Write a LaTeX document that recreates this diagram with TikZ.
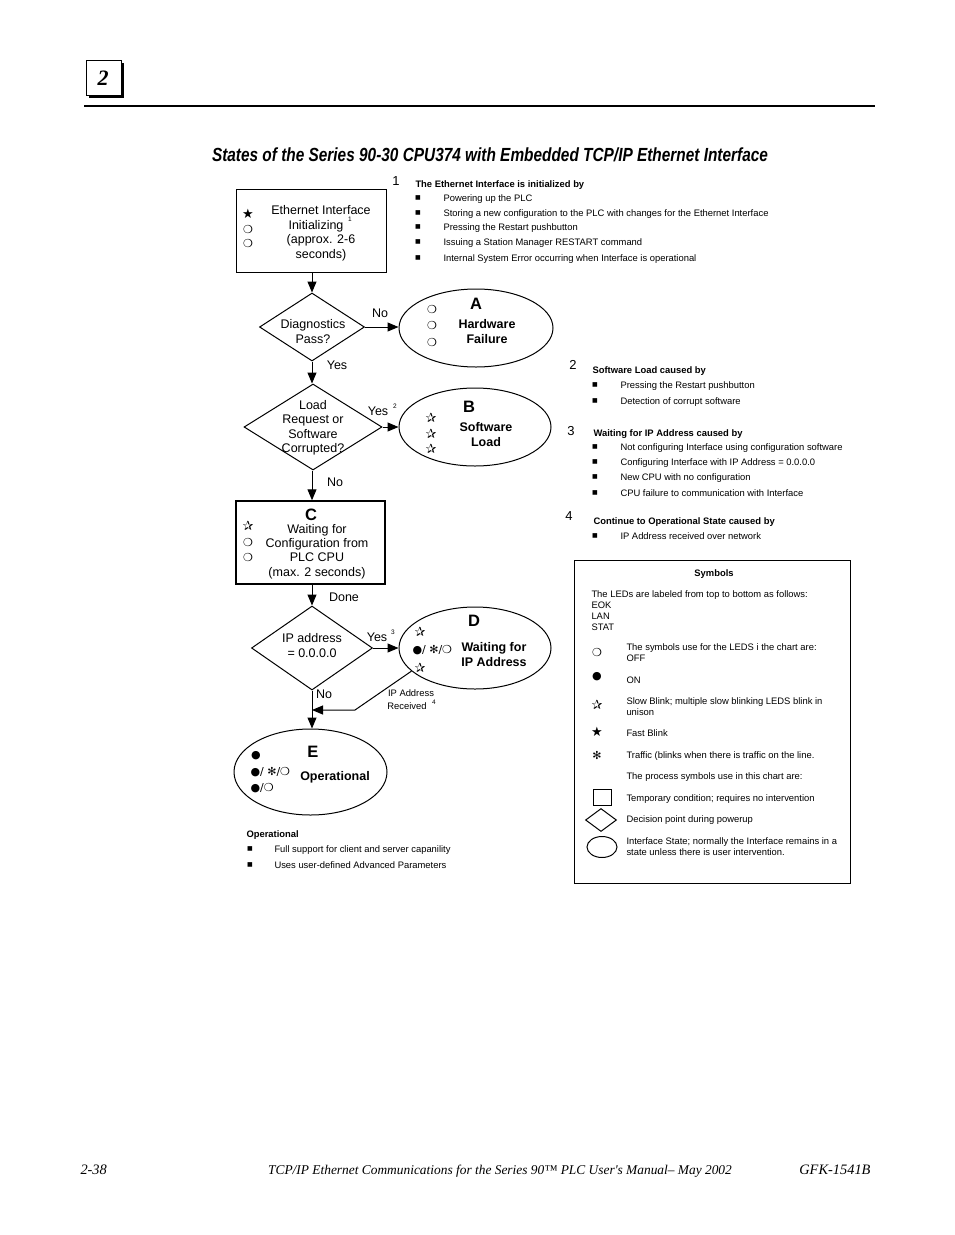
\documentclass[tikz,border=0pt]{standalone}
\usepackage{fontspec}
\setmainfont{Liberation Sans}
\newfontfamily\symf{DejaVu Sans}
\newfontfamily\timesf{Liberation Serif}
\newfontfamily\narrowf[FakeStretch=0.81]{Liberation Sans}
\usetikzlibrary{shapes.geometric,arrows.meta}
\newcommand\fsS{\fontsize{9.4pt}{11pt}\selectfont}
\newcommand\fsM{\fontsize{12.5pt}{14pt}\selectfont}
\newcommand\fsL{\fontsize{16.5pt}{18pt}\selectfont}
\newcommand\fsSup{\fontsize{6.5pt}{7pt}\selectfont}
\newcommand\fsNum{\fontsize{13pt}{15pt}\selectfont}
\newcommand\fsSym{\symf\fontsize{11pt}{12pt}\selectfont}
\newcommand\fsStar{\symf\fontsize{13pt}{14pt}\selectfont}
\newcommand\fsBul{\symf\fontsize{6pt}{7pt}\selectfont}
\begin{document}
\begin{tikzpicture}[x=1pt,y=-1pt,line width=1pt,
  txs/.style={inner sep=0,font=\fsS,text height=6.7pt,text depth=0pt},
  txsb/.style={inner sep=0,font=\fsS\bfseries,text height=6.7pt,text depth=0pt},
  txm/.style={inner sep=0,font=\fsM,text height=9pt,text depth=0pt},
  txmb/.style={inner sep=0,font=\fsM\bfseries,text height=9pt,text depth=0pt},
  txbig/.style={inner sep=0,font=\fsL\bfseries,text height=11.8pt,text depth=0pt},
  txsup/.style={inner sep=0,font=\fsSup,text height=4.7pt,text depth=0pt},
  txnum/.style={inner sep=0,font=\fsNum,text height=9.3pt,text depth=0pt},
  txsym/.style={inner sep=0,font=\fsSym},
  txstar/.style={inner sep=0,font=\fsStar},
  txbul/.style={inner sep=0,font=\fsBul},
  boxst/.style={draw,rectangle,inner sep=0},
  dia/.style={draw,diamond,inner sep=0},
  ell/.style={draw,ellipse,inner sep=0},
  arr/.style={-{Triangle[length=11pt,width=9pt]}}
]
\useasboundingbox (0,0) rectangle (954,1235);
\fill[white] (0,0) rectangle (954,1235);

% header
\fill[black] (89,63) rectangle (124,98);
\draw[fill=white] (86,60) rectangle (121,95);
\node[inner sep=0] (chap) at (103,78) {\timesf\bfseries\itshape\fontsize{22pt}{24pt}\selectfont 2};
\draw[line width=2pt] (84,106) -- (352,106);
\draw[line width=1.2pt] (352,106) -- (875,106);

% title
\node[inner sep=0,text height=13.6pt,text depth=0pt] (title) at (490,155)
  {\narrowf\bfseries\itshape\fontsize{19pt}{21pt}\selectfont States of the Series 90-30 CPU374 with Embedded TCP/IP Ethernet Interface};

% shapes
\node[boxst,minimum width=150,minimum height=83] (init) at (311,230.5) {};
\node[dia,minimum width=105,minimum height=68] (d1) at (312,327) {};
\node[ell,minimum width=154,minimum height=78] (A) at (476,328) {};
\node[dia,minimum width=138,minimum height=86] (d2) at (313,427) {};
\node[ell,minimum width=152,minimum height=78] (B) at (475,427) {};
\node[boxst,line width=1.4pt,minimum width=149,minimum height=83] (C) at (310.5,542.5) {};
\node[dia,minimum width=121,minimum height=84] (d3) at (312,648) {};
\node[ell,minimum width=152,minimum height=82] (D) at (475,648) {};
\node[ell,minimum width=153,minimum height=86] (E) at (310.5,772) {};

% connectors
\draw[arr] (init.south -| d1.north) -- (d1.north);
\draw[arr] (d1.east) -- (d1.east -| A.west);
\draw[arr] (d1.south) -- (d2.north -| d1.south);
\draw[arr] (d2.east) -- (B.west);
\draw[arr] (d2.south -| d1.south) -- (C.north -| d1.south);
\draw[arr] (C.south -| d3.north) -- (d3.north);
\draw[arr] (d3.east) -- (D.west);
\draw[arr] (d3.south) -- (E.north -| d3.south);
\coordinate (bend) at (355,710);
\coordinate (join) at (d3.south |- bend);
\draw[arr] (D.200) -- (bend) -- (join);

% init box text
\node[txm] (i1) at (321,210) {Ethernet Interface};
\node[txm] (i2) at (316,225) {Initializing};
\node[txsup] (i2s) at (350,219) {1};
\node[txm] (i3) at (321,239) {(approx. 2-6};
\node[txm] (i4) at (321,254) {seconds)};
\node[txstar] (il1) at (248,214) {★};
\node[txsym] (il2) at (248,229) {❍};
\node[txsym] (il3) at (248,243) {❍};

% d1
\node[txm] (d1a) at (313,324) {Diagnostics};
\node[txm] (d1b) at (313,339) {Pass?};
\node[txm] (no1) at (380,313) {No};
\node[txm] (yes1) at (337,365) {Yes};

% A
\node[txbig] (Al) at (476,304) {A};
\node[txsym] (Al1) at (432,309) {❍};
\node[txsym] (Al2) at (432,325) {❍};
\node[txsym] (Al3) at (432,342) {❍};
\node[txmb] (At1) at (487,324) {Hardware};
\node[txmb] (At2) at (487,339) {Failure};

% d2
\node[txm] (d2a) at (313,405) {Load};
\node[txm] (d2b) at (313,419) {Request or};
\node[txm] (d2c) at (313,434) {Software};
\node[txm] (d2d) at (313,448) {Corrupted?};
\node[txm] (yes2) at (378,411) {Yes};
\node[txsup] (yes2s) at (395,406) {2};
\node[txm] (no2) at (335,482) {No};

% B
\node[txbig] (Bl) at (469,407) {B};
\node[txstar] (Bl1) at (431,418) {✰};
\node[txstar] (Bl2) at (431,434) {✰};
\node[txstar] (Bl3) at (431,449) {✰};
\node[txmb] (Bt1) at (486,427) {Software};
\node[txmb] (Bt2) at (486,442) {Load};

% C
\node[txbig] (Cl) at (311,515) {C};
\node[txm] (C1) at (317,529) {Waiting for};
\node[txm] (C2) at (317,543) {Configuration from};
\node[txm] (C3) at (317,557) {PLC CPU};
\node[txm] (C4) at (317,572) {(max. 2 seconds)};
\node[txstar] (Cl1) at (248,526) {✰};
\node[txsym] (Cl2) at (248,542) {❍};
\node[txsym] (Cl3) at (248,557) {❍};
\node[txm] (done) at (344,597) {Done};

% d3
\node[txm] (d3a) at (312,638) {IP address};
\node[txm] (d3b) at (312,653) {= 0.0.0.0};
\node[txm] (yes3) at (377,637) {Yes};
\node[txsup] (yes3s) at (393,632) {3};
\node[txm] (no3) at (324,694) {No};

% D
\node[txbig] (Dl) at (474,621) {D};
\node[txstar] (Dl1) at (420,632) {✰};
\node[txsym,anchor=west] (Dl2) at (412,650) {●/ ✻/❍};
\node[txstar] (Dl3) at (420,668) {✰};
\node[txmb] (Dt1) at (494,647) {Waiting for};
\node[txmb] (Dt2) at (494,662) {IP Address};
\node[txs] (ipr1) at (411,693) {IP Address};
\node[txs] (ipr2) at (407,706) {Received};
\node[txsup] (ipr2s) at (434,702) {4};

% E
\node[txbig] (El) at (313,752) {E};
\node[txsym] (El1) at (256,756) {●};
\node[txsym,anchor=west] (El2) at (250,772) {●/ ✻/❍};
\node[txsym,anchor=west] (El3) at (250,788) {●/❍};
\node[txmb] (Et) at (335,776) {Operational};

% note 1
\node[txnum] (n1) at (396,181) {1};
\node[txsb,anchor=west] (n1h) at (415,184) {The Ethernet Interface is initialized by};
\foreach \yy/\tt in {198/Powering up the PLC,213/Storing a new configuration to the PLC with changes for the Ethernet Interface,227/Pressing the Restart pushbutton,242/Issuing a Station Manager RESTART command,258/Internal System Error occurring when Interface is operational}{
  \node[txbul] at (418,\yy) {■};
  \node[txs,anchor=west] at (443,\yy) {\tt};
}

% note 2
\node[txnum] (n2) at (573,365) {2};
\node[txsb,anchor=west] (n2h) at (592,370) {Software Load caused by};
\foreach \yy/\tt in {385/Pressing the Restart pushbutton,401/Detection of corrupt software}{
  \node[txbul] at (595,\yy) {■};
  \node[txs,anchor=west] at (620,\yy) {\tt};
}

% note 3
\node[txnum] (n3) at (571,431) {3};
\node[txsb,anchor=west] (n3h) at (593,433) {Waiting for IP Address caused by};
\foreach \yy/\tt in {447/Not configuring Interface using configuration software,462/Configuring Interface with IP Address = 0.0.0.0,477/New CPU with no configuration,493/CPU failure to communication with Interface}{
  \node[txbul] at (595,\yy) {■};
  \node[txs,anchor=west] at (620,\yy) {\tt};
}

% note 4
\node[txnum] (n4) at (569,516) {4};
\node[txsb,anchor=west] (n4h) at (593,521) {Continue to Operational State caused by};
\node[txbul] at (595,536) {■};
\node[txs,anchor=west] at (620,536) {IP Address received over network};

% operational note
\node[txsb,anchor=west] (oph) at (246,834) {Operational};
\foreach \yy/\tt in {849/Full support for client and server capanility,865/Uses user-defined Advanced Parameters}{
  \node[txbul] at (250,\yy) {■};
  \node[txs,anchor=west] at (274,\yy) {\tt};
}

% symbols box
\node[boxst,minimum width=276,minimum height=323] (sym) at (712,721.5) {};
\node[txsb] (symh) at (714,573) {Symbols};
\node[txs,anchor=west] at (591,594) {The LEDs are labeled from top to bottom as follows:};
\node[txs,anchor=west] at (591,605) {EOK};
\node[txs,anchor=west] at (591,616) {LAN};
\node[txs,anchor=west] at (591,627) {STAT};
\node[txsym] at (597,652) {❍};
\node[txsym] at (597,677) {●};
\node[txstar] at (597,705) {✰};
\node[txstar] at (597,732) {★};
\node[txsym] at (597,755) {✻};
\node[txs,anchor=west] at (626,647) {The symbols use for the LEDS i the chart are:};
\node[txs,anchor=west] at (626,658) {OFF};
\node[txs,anchor=west] at (626,680) {ON};
\node[txs,anchor=west] at (626,701) {Slow Blink; multiple slow blinking LEDS blink in};
\node[txs,anchor=west] at (626,712) {unison};
\node[txs,anchor=west] at (626,733) {Fast Blink};
\node[txs,anchor=west] at (626,755) {Traffic (blinks when there is traffic on the line.};
\node[txs,anchor=west] at (626,776) {The process symbols use in this chart are:};
\node[boxst,minimum width=18,minimum height=16] (ks1) at (602,797) {};
\node[txs,anchor=west] at (626,798) {Temporary condition; requires no intervention};
\node[dia,minimum width=31,minimum height=23] (ks2) at (601,820) {};
\node[txs,anchor=west] at (626,819) {Decision point during powerup};
\node[ell,minimum width=30,minimum height=21] (ks3) at (602,847) {};
\node[txs,anchor=west] at (626,841) {Interface State; normally the Interface remains in a};
\node[txs,anchor=west] at (626,852) {state unless there is user intervention.};

% footer
\node[inner sep=0,anchor=west,text height=9.5pt,text depth=0pt] (f1) at (80,1170) {\timesf\itshape\fontsize{14.4pt}{16pt}\selectfont 2-38};
\node[inner sep=0,text height=9.5pt,text depth=0pt] (f2) at (500,1170) {\timesf\itshape\fontsize{13.4pt}{16pt}\selectfont TCP/IP Ethernet Communications for the Series 90™ PLC User's Manual– May 2002};
\node[inner sep=0,anchor=east,text height=9.5pt,text depth=0pt] (f3) at (871,1170) {\timesf\itshape\fontsize{14.4pt}{16pt}\selectfont GFK-1541B};
\end{tikzpicture}
\end{document}
